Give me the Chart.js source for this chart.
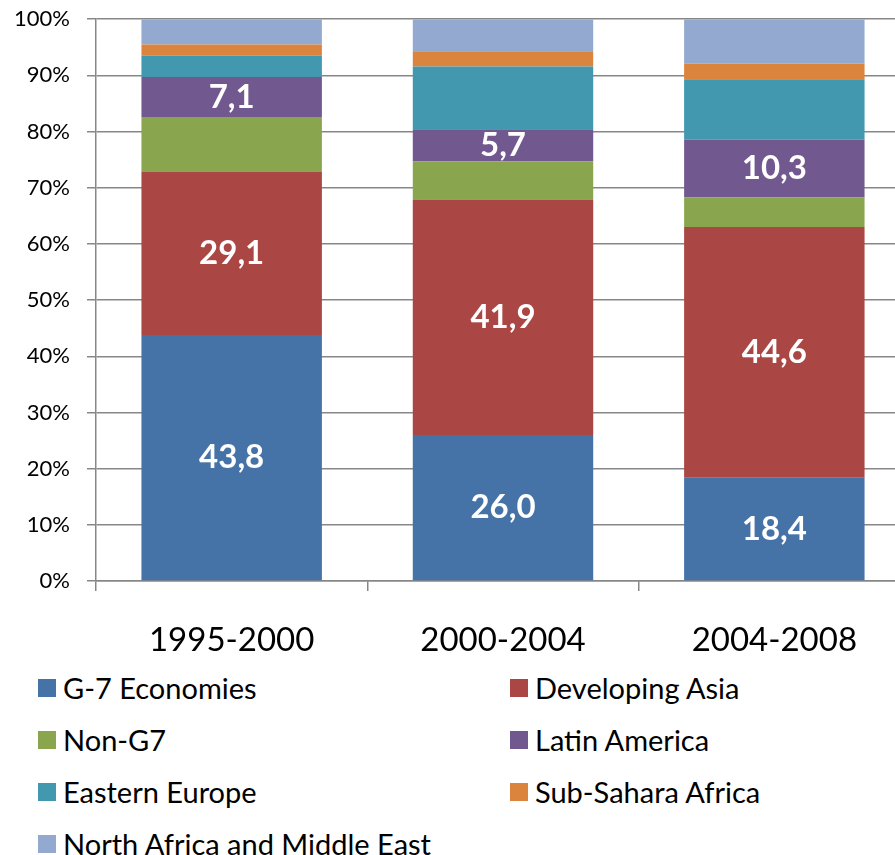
<!DOCTYPE html>
<html>
<head>
<meta charset="utf-8">
<script src="https://cdn.jsdelivr.net/npm/chart.js@4/dist/chart.umd.min.js"></script>
<style>
  html, body { margin: 0; padding: 0; background: #fff; overflow: hidden; }
  #wrap { position: relative; width: 910px; height: 855px; }
  #chart { position: absolute; left: 0; top: -11px; }
  .leg { position: absolute; font-family: Lato, "Open Sans", sans-serif; font-size: 29px; color: #000; white-space: nowrap; line-height: 1; }
  .leg span.box { position: absolute; left: 0; top: 0; width: 18px; height: 18px; }
  .leg span.txt { position: absolute; left: 25px; top: -6px; }
</style>
</head>
<body>
<div id="wrap">
  <canvas id="chart" width="910" height="681"></canvas>
  <div id="legend"></div>
</div>
<script>
// periodes
const periods = ['1995-2000', '2000-2004', '2004-2008'];

// parts en % (du bas vers le haut)
const g7 = [43.8, 26.0, 18.4];
const developingAsia = [29.1, 41.9, 44.6];
const nonG7 = [9.7, 6.8, 5.3];
const latinAmerica = [7.1, 5.7, 10.3];
const easternEurope = [3.8, 11.2, 10.7];
const subSahara = [2.0, 2.7, 2.8];
const northAfrica = [4.5, 5.7, 7.9];

const yTicks = [0, 10, 20, 30, 40, 50, 60, 70, 80, 90, 100];

const series = [
  { label: 'G-7 Economies', data: g7, color: '#4572A7', show: true },
  { label: 'Developing Asia', data: developingAsia, color: '#AA4643', show: true },
  { label: 'Non-G7', data: nonG7, color: '#89A54E', show: false },
  { label: 'Latin America', data: latinAmerica, color: '#71588F', show: true },
  { label: 'Eastern Europe', data: easternEurope, color: '#4198AF', show: false },
  { label: 'Sub-Sahara Africa', data: subSahara, color: '#DB843D', show: false },
  { label: 'North Africa and Middle East', data: northAfrica, color: '#93A9CF', show: false }
];

const datasets = series.map(s => ({
  label: s.label,
  data: s.data,
  backgroundColor: s.color,
  borderWidth: 0,
  showValues: s.show,
  barPercentage: 0.665,
  categoryPercentage: 1.0
}));

// etiquettes blanches au milieu des segments
const valueLabels = {
  id: 'valueLabels',
  afterDatasetsDraw(chart) {
    const ctx = chart.ctx;
    ctx.save();
    ctx.fillStyle = '#fff';
    ctx.font = 'bold 33px Lato, "Open Sans", sans-serif';
    ctx.textAlign = 'center';
    ctx.textBaseline = 'middle';
    chart.data.datasets.forEach((ds, i) => {
      if (!ds.showValues) return;
      chart.getDatasetMeta(i).data.forEach((bar, j) => {
        const y = (bar.y + bar.base) / 2;
        ctx.fillText(ds.data[j].toFixed(1).replace('.', ','), bar.x, y);
      });
    });
    ctx.restore();
  }
};

const ctx = document.getElementById('chart').getContext('2d');
new Chart(ctx, {
  type: 'bar',
  data: { labels: periods, datasets: datasets },
  options: {
    responsive: false,
    animation: false,
    layout: { padding: { top: 8, right: 0, left: 0, bottom: 0 } },
    plugins: { legend: { display: false }, tooltip: { enabled: false } },
    scales: {
      x: {
        stacked: true,
        grid: { offset: true, drawOnChartArea: false, color: '#878787', lineWidth: 1.5, tickLength: 10 },
        border: { color: '#878787', width: 1.5 },
        ticks: { color: '#000', padding: 30, font: { family: 'Lato, "Open Sans", sans-serif', size: 33 } },
        afterFit(scale) { scale.height = 89; }
      },
      y: {
        stacked: true,
        min: 0,
        max: 100,
        afterBuildTicks(scale) { scale.ticks = yTicks.map(v => ({ value: v })); },
        grid: { color: '#878787', lineWidth: 1.5, tickLength: 9 },
        border: { color: '#878787', width: 1.5 },
        ticks: { color: '#000', padding: 17, font: { family: 'Lato, "Open Sans", sans-serif', size: 22 }, callback: v => v + '%' },
        afterFit(scale) { scale.width = 96; }
      }
    }
  },
  plugins: [valueLabels]
});

// legende en deux colonnes
const legend = document.getElementById('legend');
series.forEach((s, i) => {
  const el = document.createElement('div');
  el.className = 'leg';
  el.style.left = (i % 2 === 0 ? 38 : 510) + 'px';
  el.style.top = (679 + Math.floor(i / 2) * 52) + 'px';
  el.innerHTML = '<span class="box" style="background:' + s.color + '"></span><span class="txt">' + s.label + '</span>';
  legend.appendChild(el);
});
</script>
</body>
</html>
